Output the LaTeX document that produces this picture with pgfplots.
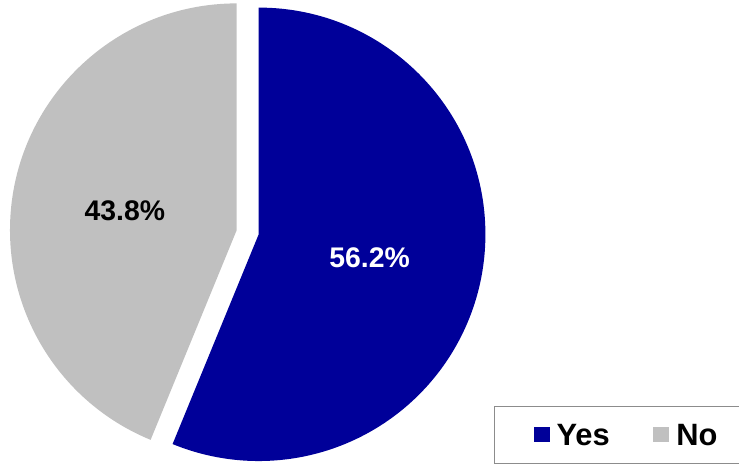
\documentclass[border=0pt]{standalone}
\usepackage{pgfplots}
\pgfplotsset{compat=1.18}
\usepackage{fontspec}
\setmainfont{Liberation Sans}
\definecolor{yesblue}{HTML}{000099}
\definecolor{nogray}{HTML}{C0C0C0}
\definecolor{boxgray}{HTML}{8C8C8C}
\begin{document}
\begin{tikzpicture}
\def\yes{56.2}
\def\no{43.8}
\pgfmathsetmacro{\yesend}{90-3.6*\yes}
\pgfmathsetmacro{\noend}{90+3.6*\no}
\begin{axis}[
  x=1bp, y=1bp, xmin=0, xmax=739, ymin=0, ymax=464,
  hide axis, clip=false, scale only axis,
]
\path (axis cs:0,0) rectangle (axis cs:739,464);
% Yes slice (exploded)
\fill[yesblue] (axis cs:259,229.4) -- ++(90:227bp) arc[start angle=90, end angle=\yesend, radius=227bp] -- cycle;
% No slice (exploded)
\fill[nogray] (axis cs:237,233.6) -- ++(90:227bp) arc[start angle=90, end angle=\noend, radius=227bp] -- cycle;
\node[font=\fontsize{28.5}{32}\selectfont\bfseries, text=white] at (axis cs:370,206) {56.2\%};
\node[font=\fontsize{28.5}{32}\selectfont\bfseries, text=black] at (axis cs:125,252.5) {43.8\%};
% legend
\draw[boxgray, line width=0.8bp] (axis cs:739.5,57) -- (axis cs:495,57) -- (axis cs:495,0.5) -- (axis cs:739.5,0.5);
\fill[yesblue] (axis cs:535,21) rectangle (axis cs:551,36);
\fill[nogray] (axis cs:654,21) rectangle (axis cs:670,36);
\node[anchor=base west, inner sep=0pt, font=\fontsize{31}{35}\selectfont\bfseries] at (axis cs:557,18) {Yes};
\node[anchor=base west, inner sep=0pt, font=\fontsize{31}{35}\selectfont\bfseries] at (axis cs:677,18) {No};
\end{axis}
\end{tikzpicture}
\end{document}
